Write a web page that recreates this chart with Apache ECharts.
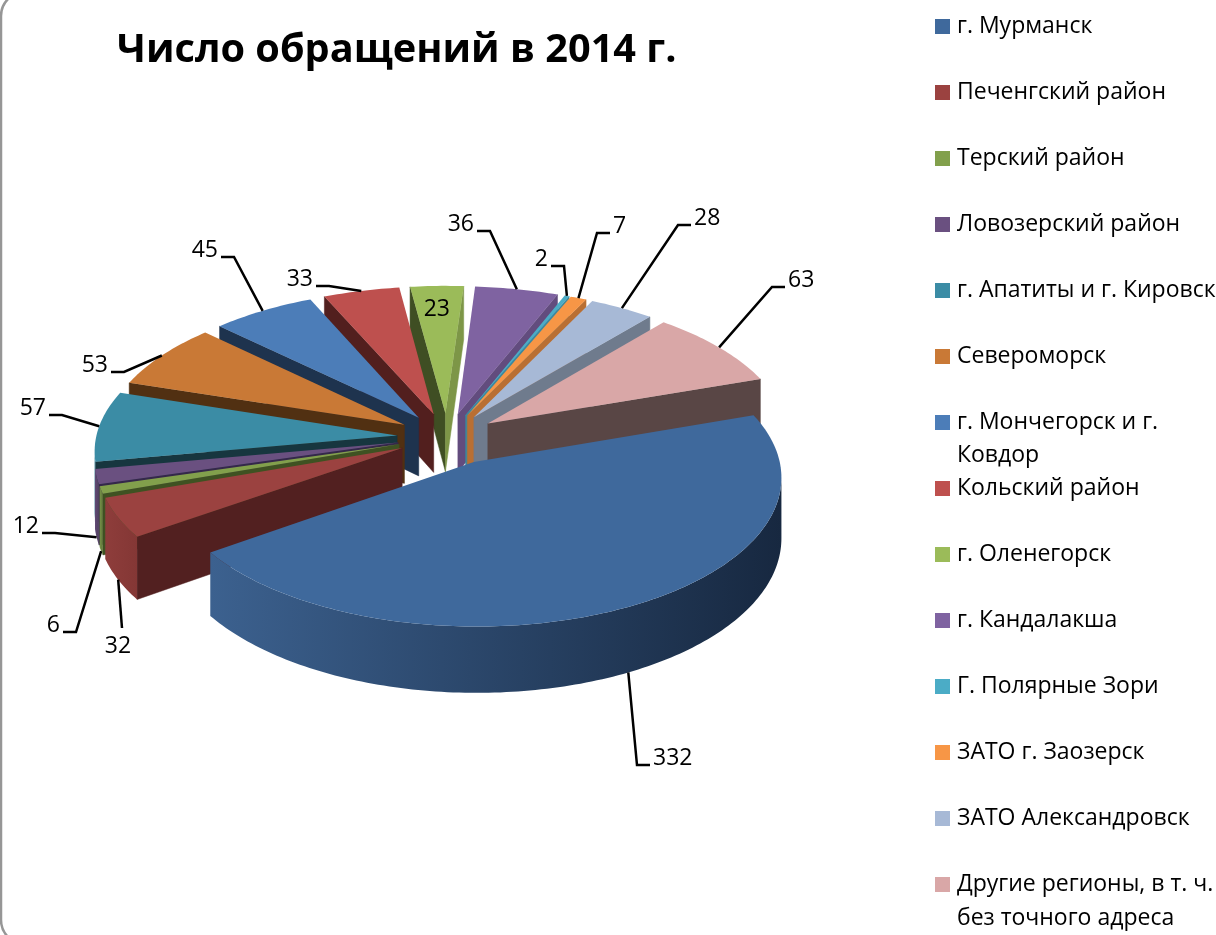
<!DOCTYPE html>
<html>
<head>
<meta charset="utf-8">
<title>Число обращений в 2014 г.</title>
<script src="https://cdn.jsdelivr.net/npm/echarts@6/dist/echarts.min.js"></script>
<style>
  html, body { margin: 0; padding: 0; background: #fff; }
  #chart { width: 1216px; height: 935px; }
</style>
</head>
<body>
<div id="chart"></div>
<script>
const categories = ['г. Мурманск', 'Печенгский район', 'Терский район', 'Ловозерский район',
  'г. Апатиты и г. Кировск', 'Североморск', 'г. Мончегорск и г. Ковдор', 'Кольский район',
  'г. Оленегорск', 'г. Кандалакша', 'Г. Полярные Зори', 'ЗАТО г. Заозерск',
  'ЗАТО Александровск', 'Другие регионы, в т. ч. без точного адреса']
const values = [332, 32, 6, 12, 57, 53, 45, 33, 23, 36, 2, 7, 28, 63]

// colours: top face, the two straight walls, rim (left, right)
const topColors = ['#3F699C', '#9B4240', '#82A04C', '#6A5080', '#3B8CA5', '#C97936', '#4C7DB8',
  '#BE504E', '#9BBB59', '#7F63A1', '#4BACC6', '#F79646', '#A7B9D6', '#D9A7A7']
const wallStart = ['#1B2D48', '#522020', '#3F5222', '#35284A', '#17363F', '#513012', '#1E334E',
  '#521F1E', '#3F4E23', '#624C7E', '#3B899E', '#B96F33', '#6F7B8D', '#594645']
const wallEnd = ['#1B2D48', '#522020', '#3F5222', '#35284A', '#17363F', '#513012', '#1E334E',
  '#521F1E', '#7D9647', '#624C7E', '#3B899E', '#B96F33', '#6F7B8D', '#594645']
const rimLeft = ['#3C618F', '#8E3D3B', '#77934A', '#614A75', '#367F96', '#B86F32', '#4673A9',
  '#AE4947', '#8EAB52', '#745B93', '#449DB5', '#E28A40', '#99A9C4', '#C79999']
const rimRight = ['#172840', '#843735', '#5F7538', '#50405F', '#2C687A', '#975B29', '#3A5F8B',
  '#8F3C3A', '#748C43', '#5F4A79', '#38808F', '#B96F33', '#6F7B8D', '#594645']

// second lines of the two long legend entries
const legendFirstLine = { 6: 'г. Мончегорск и г.', 13: 'Другие регионы, в т. ч.' }
const legendSecondLine = { 6: 'Ковдор', 13: 'без точного адреса' }

// where each leader line bends: x, y, direction of the tail (0 = no tail)
const elbows = [[637, 765, 1], [122, 628, 0], [76, 632, -1], [55, 533, -1], [62, 415, -1],
  [124, 372, -1], [234, 257, -1], [329, 286, -1], null, [490, 231, -1], [564, 266, -1],
  [597, 233, 1], [678, 225, 1], [772, 287, 1]]

const cx = 447
const cy = 437
const radius = 301
const explode = 50
const explodeBiggest = 58
const tilt = 0.478
const persp = 0.11
const depth = 59
const startDeg = -19
const fontFamily = '"Open Sans", sans-serif'
const textFont = '23px ' + fontFamily

const total = values.reduce((a, b) => a + b, 0)
const angles = []
values.reduce((sum, v) => {
  angles.push([startDeg + (sum / total) * 360, startDeg + ((sum + v) / total) * 360])
  return sum + v
}, 0)

function project(X, Y) {
  const s = 1 / (1 - persp * Y / (radius + explode))
  return [cx + X * s, cy + Y * tilt * s, s]
}

function rad(d) {
  return d * Math.PI / 180
}

function sliceOutline(i) {
  const a0 = angles[i][0]
  const a1 = angles[i][1]
  const mid = rad((a0 + a1) / 2)
  const e = i === 0 ? explodeBiggest : explode
  const ox = e * Math.cos(mid)
  const oy = e * Math.sin(mid)
  const steps = Math.max(2, Math.ceil(a1 - a0))
  const rim = []
  for (let k = 0; k <= steps; k++) {
    const a = rad(a0 + (a1 - a0) * k / steps)
    rim.push(project(ox + radius * Math.cos(a), oy + radius * Math.sin(a)))
  }
  const m = project(ox + radius * Math.cos(mid), oy + radius * Math.sin(mid))
  // on the front half the leader starts at the foot of the rim
  const anchor = Math.sin(mid) > 0 ? [m[0], m[1] + depth * m[2]] : [m[0], m[1]]
  return { apex: project(ox, oy), rim: rim, anchor: anchor }
}

function wall(p, q, color) {
  return {
    type: 'polygon',
    shape: { points: [[p[0], p[1]], [q[0], q[1]], [q[0], q[1] + depth * q[2]], [p[0], p[1] + depth * p[2]]] },
    style: { fill: color, stroke: color, lineWidth: 0.5 }
  }
}

function renderSlice(i) {
  const o = sliceOutline(i)
  const children = []
  // the outline runs clockwise, so a wall shows only where it runs right to left
  if (o.rim[0][0] < o.apex[0]) children.push(wall(o.apex, o.rim[0], wallStart[i]))
  const last = o.rim[o.rim.length - 1]
  if (o.apex[0] < last[0]) children.push(wall(last, o.apex, wallEnd[i]))

  const run = o.rim.filter((p, k) =>
    (k < o.rim.length - 1 && o.rim[k + 1][0] < p[0]) || (k > 0 && p[0] < o.rim[k - 1][0]))
  if (run.length > 1) {
    const points = run.map(p => [p[0], p[1]])
      .concat(run.slice().reverse().map(p => [p[0], p[1] + depth * p[2]]))
    children.push({
      type: 'polygon',
      shape: { points: points },
      style: {
        fill: new echarts.graphic.LinearGradient(0, 0, 1, 0, [
          { offset: 0, color: rimLeft[i] },
          { offset: 1, color: rimRight[i] }
        ])
      }
    })
  }

  const face = [[o.apex[0], o.apex[1]]].concat(o.rim.map(p => [p[0], p[1]]))
  children.push({ type: 'polygon', shape: { points: face }, style: { fill: topColors[i] } })

  const label = { fill: '#000', font: textFont, text: String(values[i]) }
  const e = elbows[i]
  if (e) {
    const tail = e[2] * 13
    const line = [[o.anchor[0], o.anchor[1]], [e[0], e[1]]]
    if (tail) line.push([e[0] + tail, e[1]])
    children.push({
      type: 'polyline',
      shape: { points: line },
      style: { fill: null, stroke: '#000', lineWidth: 2.5 }
    })
    if (tail) {
      label.x = e[0] + tail + e[2] * 3
      label.y = e[1] - 7
      label.align = e[2] > 0 ? 'left' : 'right'
    } else {
      label.x = e[0] - 4
      label.y = e[1] + 18
      label.align = 'center'
    }
  } else {
    label.x = o.rim[Math.floor(o.rim.length / 2)][0] + 0
    label.y = o.rim[Math.floor(o.rim.length / 2)][1] + 24
    label.align = 'center'
  }
  label.verticalAlign = 'middle'
  children.push({ type: 'text', style: label })
  return { type: 'group', children: children }
}

// back slices are painted first
const order = values.map((v, i) => i).sort((a, b) =>
  Math.sin(rad((angles[a][0] + angles[a][1]) / 2)) - Math.sin(rad((angles[b][0] + angles[b][1]) / 2)))

const chart = echarts.init(document.getElementById('chart'))
chart.setOption({
  animation: false,
  backgroundColor: '#fff',
  title: {
    text: 'Число обращений в 2014 г.',
    left: 117,
    top: 31,
    padding: 0,
    textStyle: { color: '#000', fontSize: 39.7, fontWeight: 'bold', fontFamily: fontFamily }
  },
  legend: {
    orient: 'vertical',
    left: 935,
    top: 14,
    padding: 0,
    itemWidth: 15,
    itemHeight: 15,
    itemGap: 41,
    icon: 'rect',
    selectedMode: false,
    data: categories,
    formatter: name => legendFirstLine[categories.indexOf(name)] || name,
    textStyle: { color: '#000', fontSize: 23, lineHeight: 25, fontFamily: fontFamily, padding: [0, 0, 0, 2] }
  },
  graphic: [
    {
      type: 'rect',
      silent: true,
      shape: { x: 1, y: -8, width: 1400, height: 952, r: 24 },
      style: { fill: 'none', stroke: '#969696', lineWidth: 2.5 }
    },
    {
      type: 'text',
      style: { x: 957, y: 455, text: legendSecondLine[6], fill: '#000', font: textFont, verticalAlign: 'middle' }
    },
    {
      type: 'text',
      style: { x: 957, y: 918, text: legendSecondLine[13], fill: '#000', font: textFont, verticalAlign: 'middle' }
    }
  ],
  series: categories.map((name, i) => ({
    name: name,
    type: 'custom',
    coordinateSystem: 'none',
    silent: true,
    z: 2 + order.indexOf(i),
    itemStyle: { color: topColors[i] },
    data: [values[i]],
    renderItem: () => renderSlice(i)
  }))
})
</script>
</body>
</html>
